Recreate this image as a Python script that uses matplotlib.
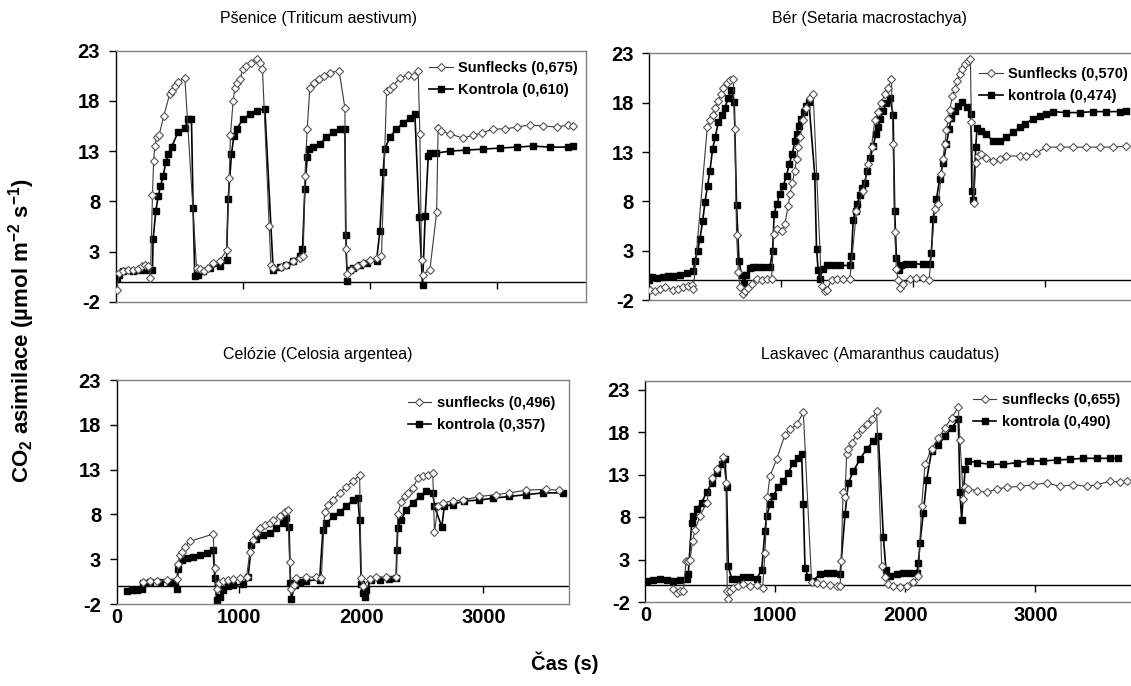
import matplotlib
matplotlib.use("Agg")
import matplotlib.pyplot as plt

plt.rcParams['font.family'] = ['Liberation Sans', 'DejaVu Sans']
plt.rcParams['mathtext.default'] = 'regular'
plt.rcParams['axes.unicode_minus'] = False

# ---------------- data ----------------
# Top-left: Pšenice
tl_sf_x = [13, 30, 60, 100, 140, 180, 210, 235, 255, 275, 291, 300, 309, 325, 343, 380, 427, 445, 465, 493, 546,
           638, 664, 700, 730, 769, 820, 874, 895, 905, 926, 940, 960, 980, 1005, 1030, 1068, 1110, 1136, 1157,
           1210, 1223, 1240, 1300, 1346, 1400, 1450, 1478, 1491, 1509, 1530, 1560, 1600, 1640, 1687, 1760, 1806,
           1813, 1824, 1850, 1900, 1950, 2000, 2060, 2094, 2134, 2160, 2186, 2239, 2300, 2350, 2383, 2396, 2409,
           2422, 2475, 2528, 2540, 2566, 2632, 2737, 2816, 2882, 2973, 3065, 3157, 3262, 3367, 3472, 3564, 3603]
tl_sf_y = [-0.8, 0.9, 1.1, 1.2, 1.2, 1.3, 1.6, 1.7, 1.6, 0.4, 8.6, 12.0, 13.5, 14.4, 14.6, 16.5, 18.7, 19.0, 19.5, 19.9, 20.3,
           1.4, 1.3, 1.1, 1.4, 1.9, 2.1, 3.1, 10.3, 14.6, 18.0, 19.3, 19.8, 20.2, 21.2, 21.5, 21.8, 22.2, 21.8, 21.2,
           5.5, 1.7, 1.4, 1.5, 1.7, 2.1, 2.4, 2.6, 10.5, 15.2, 19.3, 19.8, 20.2, 20.5, 20.8, 21.0, 17.3,
           3.2, 0.8, 1.2, 1.6, 1.9, 2.2, 2.4, 2.6, 19.0, 19.2, 19.5, 20.3, 20.6, 20.5, 21.0, 14.7, 2.2,
           0.7, 1.2, 6.9, 15.3, 15.0, 14.7, 14.3, 14.6, 14.8, 15.2, 15.2, 15.4, 15.6, 15.5, 15.4, 15.6, 15.5]
tl_k_x = [13, 29, 60, 139, 191, 244, 291, 296, 317, 336, 354, 375, 396, 414, 441, 493, 546, 572, 598, 611, 624,
          651, 690, 743, 821, 874, 887, 913, 932, 953, 1005, 1058, 1110, 1176, 1241, 1294, 1346, 1399, 1451, 1472,
          1491, 1509, 1525, 1556, 1609, 1661, 1714, 1766, 1806, 1813, 1824, 1845, 1871, 1924, 1976, 2055, 2081,
          2107, 2120, 2160, 2212, 2265, 2317, 2357, 2391, 2417, 2438, 2462, 2475, 2527, 2632, 2763, 2895, 3026,
          3157, 3288, 3420, 3560, 3603]
tl_k_y = [0.4, 0.7, 1.1, 1.1, 1.2, 1.2, 1.2, 4.2, 7.0, 8.5, 9.5, 10.5, 11.9, 12.7, 13.4, 14.9, 15.3, 16.2, 16.2, 7.3, 0.6,
          0.7, 1.1, 1.4, 1.6, 2.2, 8.2, 12.7, 14.5, 15.2, 16.2, 16.7, 17.0, 17.2, 1.2, 1.5, 1.7, 2.1, 2.6, 3.2,
          9.2, 12.4, 13.2, 13.4, 13.7, 14.4, 14.9, 15.2, 15.2, 4.6, 0.1, 1.2, 1.4, 1.7, 1.9, 2.1, 5.0,
          10.9, 13.2, 14.4, 15.2, 15.8, 16.3, 16.7, 6.4, -0.3, 6.5, 12.5, 12.8, 12.8, 13.0, 13.1, 13.2, 13.3,
          13.4, 13.5, 13.4, 13.4, 13.5]

# Top-right: Bér
tr_sf_x = [8, 45, 83, 121, 184, 222, 260, 298, 323, 336, 442, 462, 482, 502, 525, 543, 563, 588, 614, 639, 651,
           664, 677, 689, 710, 727, 752, 778, 816, 853, 891, 929, 947, 967, 1005, 1030, 1055, 1068, 1086, 1106,
           1119, 1131, 1144, 1169, 1194, 1220, 1245, 1308, 1333, 1346, 1384, 1422, 1472, 1523, 1573, 1624, 1661,
           1687, 1712, 1737, 1762, 1788, 1813, 1838, 1851, 1863, 1876, 1889, 1906, 1927, 1977, 2028, 2078, 2124,
           2167, 2192, 2217, 2229, 2242, 2255, 2268, 2280, 2301, 2318, 2336, 2356, 2376, 2394, 2419, 2437, 2444,
           2462, 2477, 2495, 2520, 2558, 2609, 2659, 2710, 2810, 2861, 2937, 3013, 3114, 3215, 3316, 3416, 3517, 3618]
tr_sf_y = [-1.0, -1.1, -0.9, -0.7, -1.0, -0.9, -0.7, -0.6, -0.5, -0.9, 15.5, 16.2, 16.8, 17.5, 18.2, 18.9, 19.5, 20.0, 20.3, 20.4, 15.3,
           4.6, 0.8, -0.7, -1.4, -1.1, -0.8, -0.4, 0.1, 0.0, 0.1, 0.1, 4.7, 5.2, 5.0, 5.7, 7.5, 8.7, 9.9, 11.1,
           12.3, 13.5, 14.5, 16.2, 17.5, 18.5, 18.9, -0.6, -1.1, -1.0, 0.0, 0.1, 0.1, 0.1, 7.0, 9.1, 11.8,
           13.5, 16.2, 17.1, 18.0, 18.9, 19.5, 20.4, 13.8, 4.9, 1.1, 0.0, -0.8, -0.4, 0.1, 0.2, 0.2, 0.0,
           7.2, 7.7, 10.8, 12.3, 13.8, 15.2, 16.3, 17.3, 18.7, 19.4, 20.2, 20.9, 21.4, 21.9, 22.2, 22.4, 16.0,
           7.8, 11.9, 12.6, 12.8, 12.4, 12.1, 12.3, 12.6, 12.6, 12.6, 12.9, 13.5, 13.5, 13.5, 13.5, 13.5, 13.5, 13.6]
tr_k_x = [0, 20, 58, 109, 146, 184, 235, 285, 336, 348, 369, 386, 407, 424, 444, 462, 482, 502, 525, 550, 576,
          601, 621, 646, 664, 682, 702, 720, 735, 765, 790, 816, 866, 917, 937, 949, 967, 992, 1018, 1043, 1063,
          1086, 1106, 1119, 1136, 1156, 1174, 1194, 1212, 1257, 1270, 1283, 1295, 1316, 1346, 1396, 1447, 1523,
          1535, 1548, 1566, 1578, 1598, 1616, 1636, 1654, 1679, 1699, 1720, 1737, 1755, 1775, 1800, 1826, 1851,
          1863, 1876, 1896, 1914, 1952, 2002, 2078, 2129, 2141, 2154, 2179, 2204, 2230, 2255, 2275, 2293, 2318,
          2343, 2376, 2410, 2440, 2448, 2460, 2477, 2487, 2520, 2558, 2609, 2659, 2710, 2760, 2810, 2848, 2912,
          2962, 3013, 3063, 3164, 3265, 3366, 3467, 3568, 3618]
tr_k_y = [0.0, 0.3, 0.2, 0.35, 0.4, 0.45, 0.56, 0.7, 0.9, 2.0, 3.0, 4.2, 6.0, 7.9, 9.6, 11.1, 13.3, 14.5, 16.0, 16.8, 17.5,
          18.5, 19.3, 18.1, 7.6, 2.0, 0.5, -0.3, 0.5, 1.2, 1.3, 1.3, 1.3, 1.3, 3.0, 6.7, 7.7, 8.7, 9.6, 10.6, 11.8,
          12.8, 14.1, 14.8, 15.6, 16.4, 17.1, 17.7, 18.1, 10.6, 3.2, 1.0, 0.1, 1.1, 1.5, 1.5, 1.5, 1.5,
          2.5, 6.1, 7.0, 7.7, 8.6, 9.4, 9.9, 11.1, 12.4, 13.6, 14.8, 15.5, 16.4, 17.2, 18.0, 18.5, 16.8,
          7.0, 2.3, 1.0, 1.5, 1.7, 1.7, 1.6, 1.6, 2.8, 6.2, 8.2, 10.3, 11.9, 13.8, 15.3, 16.5, 17.2,
          17.7, 18.1, 17.6, 16.9, 9.1, 8.1, 13.5, 15.4, 15.1, 14.8, 14.1, 14.1, 14.5, 15.0, 15.5, 15.8, 16.4,
          16.7, 16.9, 17.1, 17.0, 17.0, 17.1, 17.1, 17.1, 17.2]

# Bottom-left: Celózie
bl_sf_x = [219, 273, 328, 410, 491, 505, 518, 532, 559, 600, 790, 804, 818, 839, 872, 913, 954, 1008, 1063, 1090,
           1117, 1144, 1171, 1212, 1253, 1280, 1335, 1375, 1403, 1416, 1430, 1449, 1471, 1552, 1634, 1675, 1702,
           1729, 1770, 1825, 1879, 1933, 1988, 2001, 2015, 2069, 2124, 2205, 2287, 2300, 2328, 2355, 2382, 2423,
           2464, 2505, 2545, 2586, 2600, 2627, 2668, 2750, 2831, 2967, 3103, 3212, 3348, 3511, 3620]
bl_sf_y = [0.5, 0.6, 0.6, 0.7, 0.75, 2.5, 3.5, 3.8, 4.4, 5.0, 5.8, 2.0, -0.3, 0.3, 0.6, 0.7, 0.75, 0.9, 1.0, 3.8,
           5.1, 5.9, 6.5, 6.8, 7.0, 7.4, 7.8, 8.3, 8.5, 2.7, -0.3, 0.1, 0.9, 1.0, 1.0, 0.9, 8.3,
           9.1, 9.6, 10.4, 11.1, 11.7, 12.4, 0.9, 0.0, 0.75, 1.0, 1.0, 1.0, 8.1, 9.4, 10.0, 10.4, 10.9,
           12.1, 12.3, 12.4, 12.6, 6.0, 8.9, 9.3, 9.5, 9.6, 10.0, 10.2, 10.4, 10.7, 10.8, 10.7]
bl_k_x = [83, 124, 165, 205, 219, 273, 355, 437, 478, 491, 505, 532, 573, 627, 682, 736, 790, 804, 818, 845, 872,
          913, 954, 1036, 1076, 1103, 1144, 1198, 1253, 1308, 1362, 1389, 1411, 1422, 1430, 1457, 1498, 1552, 1661,
          1688, 1716, 1770, 1825, 1879, 1933, 1974, 1988, 2001, 2015, 2028, 2042, 2083, 2151, 2232, 2287, 2292,
          2300, 2328, 2369, 2423, 2478, 2532, 2586, 2600, 2660, 2680, 2750, 2840, 2967, 3076, 3212, 3348, 3484, 3647]
bl_k_y = [-0.6, -0.45, -0.4, -0.3, 0.3, 0.5, 0.5, 0.4, 0.4, -0.3, 1.9, 2.9, 3.1, 3.3, 3.5, 3.7, 4.0, 0.9, -1.5, -1.2, -0.45,
          0.0, 0.1, 0.2, 1.0, 4.6, 5.3, 5.7, 5.9, 6.5, 7.0, 7.6, 6.6, 0.3, -1.4, 0.1, 0.5, 0.6, 0.7,
          6.3, 7.0, 7.8, 8.3, 8.9, 9.6, 9.8, 7.4, 0.2, -0.8, -1.2, -0.45, 0.7, 0.7, 0.75, 0.9, 4.0,
          6.5, 7.4, 8.5, 9.3, 10.0, 10.6, 10.4, 8.9, 6.6, 8.9, 9.1, 9.5, 9.6, 9.8, 10.0, 10.2, 10.4, 10.4]

# Bottom-right: Laskavec
br_sf_x = [215, 240, 265, 291, 312, 329, 342, 363, 381, 419, 470, 509, 547, 598, 619, 629, 637, 650, 676, 714, 753,
           804, 855, 901, 919, 937, 957, 1009, 1073, 1112, 1163, 1214, 1278, 1316, 1368, 1419, 1471, 1497, 1505,
           1520, 1535, 1547, 1560, 1586, 1624, 1663, 1701, 1740, 1778, 1817, 1843, 1868, 1907, 1958, 2010, 2061,
           2099, 2124, 2150, 2201, 2253, 2304, 2355, 2406, 2419, 2445, 2458, 2484, 2548, 2625, 2702, 2779, 2882,
           2984, 3087, 3189, 3292, 3394, 3471, 3574, 3651, 3702]
br_sf_y = [-0.5, -0.9, -0.7, -0.7, 2.8, 2.8, 3.0, 5.2, 6.5, 8.1, 9.7, 12.6, 13.6, 15.1, 12.0, -0.7, -1.7, -0.7, -0.3, -0.1, 0.1,
           -0.1, 0.0, -0.3, 3.8, 10.3, 12.8, 14.8, 17.7, 18.3, 18.9, 20.3, 0.3, 0.2, 0.1, 0.0, -0.1, -0.1, 2.8,
           10.9, 10.3, 15.4, 16.0, 16.7, 17.7, 18.3, 18.9, 19.5, 20.5, 2.2, 0.9, 0.1, -0.1, -0.2, -0.1, 0.3,
           1.1, 9.3, 14.2, 16.0, 17.3, 18.5, 19.7, 20.9, 17.1, 10.1, 11.5, 11.3, 11.1, 10.9, 11.3, 11.5, 11.6,
           11.8, 12.0, 11.6, 11.8, 11.6, 11.8, 12.2, 12.1, 12.2]
br_k_x = [9, 60, 111, 163, 214, 265, 317, 329, 355, 368, 394, 432, 470, 509, 547, 586, 611, 624, 637, 663, 701,
          753, 804, 855, 894, 919, 932, 957, 983, 1021, 1060, 1098, 1137, 1176, 1201, 1214, 1227, 1253, 1291, 1342,
          1394, 1445, 1497, 1535, 1560, 1599, 1650, 1701, 1753, 1791, 1830, 1850, 1881, 1933, 1984, 2035, 2087,
          2099, 2112, 2137, 2163, 2201, 2253, 2304, 2355, 2406, 2419, 2432, 2458, 2484, 2548, 2650, 2753, 2856,
          2958, 3061, 3164, 3266, 3369, 3471, 3574, 3638]
br_k_y = [0.5, 0.6, 0.7, 0.6, 0.5, 0.55, 0.7, 1.3, 7.3, 8.1, 8.9, 9.7, 10.9, 12.0, 13.2, 14.2, 14.8, 11.5, 2.2, 0.7, 0.7,
          0.9, 1.0, 0.7, 1.8, 6.4, 8.1, 9.5, 10.5, 11.5, 12.2, 13.2, 14.4, 15.0, 15.4, 9.5, 2.0, 0.9, 0.5, 1.3,
          1.4, 1.4, 1.3, 8.3, 12.0, 13.4, 14.8, 16.0, 16.9, 17.5, 5.6, 1.8, 1.1, 1.3, 1.4, 1.4, 1.4,
          2.6, 5.0, 8.5, 12.4, 15.8, 16.5, 17.5, 18.5, 19.5, 10.9, 7.7, 13.6, 14.6, 14.4, 14.2, 14.2, 14.4,
          14.6, 14.6, 14.7, 14.8, 14.9, 14.9, 14.9, 14.9]

titles = ["Pšenice (Triticum aestivum)", "Bér (Setaria macrostachya)",
          "Celózie (Celosia argentea)", "Laskavec (Amaranthus caudatus)"]
sf_labels = ["Sunflecks (0,675)", "Sunflecks (0,570)", "sunflecks (0,496)", "sunflecks (0,655)"]
k_labels = ["Kontrola (0,610)", "kontrola (0,474)", "kontrola (0,357)", "kontrola (0,490)"]
y_ticks = [-2, 3, 8, 13, 18, 23]
x_ticks = [0, 1000, 2000, 3000]

# ---------------- layout ----------------
W, H = 1131, 686
fig = plt.figure(figsize=(W / 100, H / 100), dpi=100)

def px_axes(left, right, top, bottom):
    return fig.add_axes([left / W, 1 - bottom / H, (right - left) / W, (bottom - top) / H])

panels = [
    dict(box=(115.5, 585.5, 50.7, 301.7), xlim=(0, 3700), ylim=(-2, 23), sf=(tl_sf_x, tl_sf_y), k=(tl_k_x, tl_k_y),
         xlab=False, leg=(1.006, 1.0), title=(318, 18)),
    dict(box=(649, 1137, 53.4, 300), xlim=(0, 3700), ylim=(-2, 23), sf=(tr_sf_x, tr_sf_y), k=(tr_k_x, tr_k_y),
         xlab=False, leg=(1.003, 0.985), title=(870, 18)),
    dict(box=(116.5, 569, 380, 604), xlim=(0, 3700), ylim=(-2, 23), sf=(bl_sf_x, bl_sf_y), k=(bl_k_x, bl_k_y),
         xlab=True, leg=(0.992, 0.975), title=(318, 355)),
    dict(box=(645.5, 1139.5, 381, 602), xlim=(0, 3800), ylim=(-2, 24), sf=(br_sf_x, br_sf_y), k=(br_k_x, br_k_y),
         xlab=True, leg=(0.982, 0.99), title=(880, 355)),
]

for i, p in enumerate(panels):
    ax = px_axes(*p['box'])
    ax.set_xlim(*p['xlim'])
    ax.set_ylim(*p['ylim'])
    ax.axhline(0, color='black', lw=1.0, zorder=1)
    sfx, sfy = p['sf']
    kx, ky = p['k']
    ax.plot(sfx, sfy, color='#3a3a3a', lw=0.8, marker='D', ms=4.2, mfc='white', mec='#555555', mew=0.8,
            label=sf_labels[i], zorder=3)
    ax.plot(kx, ky, color='black', lw=1.2, marker='s', ms=3.9, mfc='black', mec='black',
            label=k_labels[i], zorder=2)
    for s in ['top', 'right', 'bottom']:
        ax.spines[s].set_color('#808080')
        ax.spines[s].set_linewidth(1.0)
    ax.spines['left'].set_color('black')
    ax.spines['left'].set_linewidth(1.0)
    ax.set_yticks(y_ticks)
    ax.tick_params(axis='y', direction='out', length=5, width=1, pad=6, labelsize=14.5)
    for lab in ax.get_yticklabels():
        lab.set_fontweight('bold')
    ax.set_xticks(x_ticks)
    ax.tick_params(axis='x', length=0, pad=3, labelsize=14.5, labelbottom=p['xlab'])
    for lab in ax.get_xticklabels():
        lab.set_fontweight('bold')
    # x axis drawn at y = 0 with its tick marks
    ylo, yhi = p['ylim']
    sec = ax.secondary_xaxis((0 - ylo) / (yhi - ylo))
    sec.set_xticks(x_ticks[1:])
    sec.tick_params(axis='x', direction='out', length=5, width=1, labelbottom=False, labeltop=False)
    sec.spines['bottom'].set_visible(False)
    sec.spines['top'].set_visible(False)
    ax.legend(loc='upper right', bbox_to_anchor=p['leg'], frameon=False,
              prop={'family': 'Liberation Sans', 'weight': 'bold', 'size': 10.5},
              handlelength=1.6, handletextpad=0.4, labelspacing=0.55, borderpad=0.2)
    tx, ty = p['title']
    fig.text(tx / W, 1 - ty / H, titles[i], ha='center', va='center', fontsize=11.5)

fig.text(22 / W, 1 - 330 / H, "CO$_2$ asimilace (µmol m$^{-2}$ s$^{-1}$)", rotation=90,
         ha='center', va='center', fontsize=16, fontweight='bold')
fig.text(565 / W, 1 - 663 / H, "Čas (s)", ha='center', va='center', fontsize=14.5, fontweight='bold')

fig.savefig("out.png", dpi=100)
